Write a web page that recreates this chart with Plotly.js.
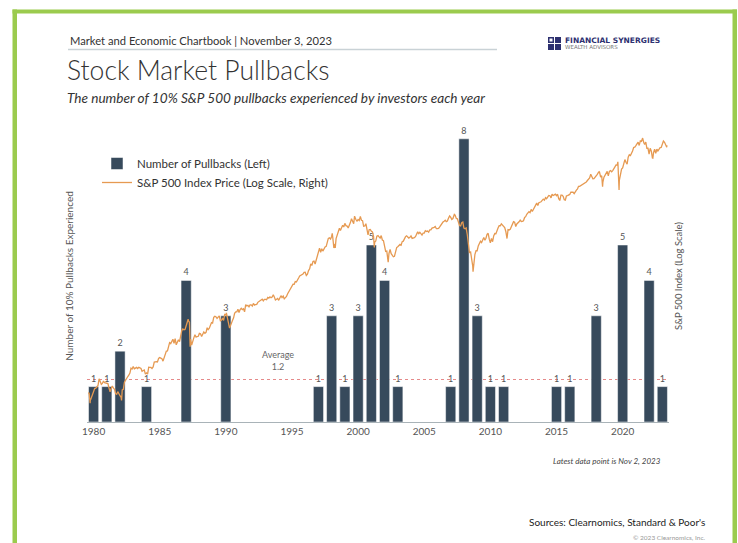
<!DOCTYPE html>
<html>
<head>
<meta charset="utf-8">
<script src="https://cdn.plot.ly/plotly-3.0.1.min.js"></script>
<style>
  html, body { margin: 0; padding: 0; background: #ffffff; }
  #chart { width: 738px; height: 543px; }
</style>
</head>
<body>
<div id="chart"></div>
<script>
// ---------------- DATA ----------------
// Years in which 10% pullbacks occurred, and how many
const pullbackYears  = [1980,1981,1982,1984,1987,1990,1997,1998,1999,2000,2001,2002,2003,2007,2008,2009,2010,2011,2015,2016,2018,2020,2022,2023];
const pullbackCounts = [1,   1,   2,   1,   4,   3,   1,   3,   1,   3,   5,   4,   1,   1,   8,   3,   1,   1,   1,   1,   3,   5,   4,   1];
const averagePullbacks = 1.2;

// x-axis tick labels
const tickYears = [1980,1985,1990,1995,2000,2005,2010,2015,2020];

// S&P 500 month-end closes, starting January 1980
const spStartYear = 1980;
const spMonthly = [
 114.16,113.66,102.09,106.29,111.24,114.24,121.67,122.38,125.46,127.47,140.52,135.76,
 129.55,131.27,136.00,132.81,132.59,131.21,130.92,122.79,116.18,121.89,126.35,122.55,
 120.40,113.11,111.96,116.44,111.88,109.61,107.09,119.51,120.42,133.71,138.54,140.64,
 145.30,148.06,152.96,164.42,162.39,168.11,162.56,164.40,166.07,163.55,166.40,164.93,
 163.41,157.06,159.18,160.05,150.55,153.18,150.66,166.68,166.10,166.09,163.58,167.24,
 179.63,181.18,180.66,179.83,189.55,191.85,190.92,188.63,182.08,189.82,202.17,211.28,
 211.78,226.92,238.90,235.52,247.35,250.84,236.12,252.93,231.32,243.98,249.22,242.17,
 274.08,284.20,291.70,288.36,290.10,304.00,318.66,329.80,321.83,251.79,230.30,247.08,
 257.07,267.82,258.89,261.33,262.16,273.50,272.02,261.52,271.91,278.97,273.70,277.72,
 297.47,288.86,294.87,309.64,320.52,317.98,346.08,351.45,349.15,340.36,345.99,353.40,
 329.08,331.89,339.94,330.80,361.23,358.02,356.15,322.56,306.05,304.00,322.22,330.22,
 343.93,367.07,375.22,375.34,389.83,371.16,387.81,395.43,387.86,392.46,375.22,417.09,
 408.79,412.70,403.69,414.95,415.35,408.14,424.21,414.03,417.80,418.68,431.35,435.71,
 438.78,443.38,451.67,440.19,450.19,450.53,448.13,463.56,458.93,467.83,461.79,466.45,
 481.61,467.14,445.77,450.91,456.50,444.27,458.26,475.49,462.69,472.35,453.69,459.27,
 470.42,487.39,500.71,514.71,533.40,544.75,562.06,561.88,584.41,581.50,605.37,615.93,
 636.02,640.43,645.50,654.17,669.12,670.63,639.95,651.99,687.31,705.27,757.02,740.74,
 786.16,790.82,757.12,801.34,848.28,885.14,954.29,899.47,947.28,914.62,955.40,970.43,
 980.28,1049.34,1101.75,1111.75,1090.82,1133.84,1120.67,957.28,1017.01,1098.67,1163.63,1229.23,
 1279.64,1238.33,1286.37,1335.18,1301.84,1372.71,1328.72,1320.41,1282.71,1362.93,1388.91,1469.25,
 1394.46,1366.42,1498.58,1452.43,1420.60,1454.60,1430.83,1517.68,1436.51,1429.40,1314.95,1320.28,
 1366.01,1239.94,1160.33,1249.46,1255.82,1224.42,1211.23,1133.58,1040.94,1059.78,1139.45,1148.08,
 1130.20,1106.73,1147.39,1076.92,1067.14,989.82,911.62,916.07,815.28,885.76,936.31,879.82,
 855.70,841.15,848.18,916.92,963.59,974.50,990.31,1008.01,995.97,1050.71,1058.20,1111.92,
 1131.13,1144.94,1126.21,1107.30,1120.68,1140.84,1101.72,1104.24,1114.58,1130.20,1173.82,1211.92,
 1181.27,1203.60,1180.59,1156.85,1191.50,1191.33,1234.18,1220.33,1228.81,1207.01,1249.48,1248.29,
 1280.08,1280.66,1294.83,1310.61,1270.09,1270.20,1276.66,1303.82,1335.85,1377.94,1400.63,1418.30,
 1438.24,1406.82,1420.86,1482.37,1530.62,1503.35,1455.27,1473.99,1526.75,1549.38,1481.14,1468.36,
 1378.55,1330.63,1322.70,1385.59,1400.38,1280.00,1267.38,1282.83,1166.36,968.75,896.24,903.25,
 825.88,735.09,797.87,872.81,919.14,919.32,987.48,1020.62,1057.08,1036.19,1095.63,1115.10,
 1073.87,1104.49,1169.43,1186.69,1089.41,1030.71,1101.60,1049.33,1141.20,1183.26,1180.55,1257.64,
 1286.12,1327.22,1325.83,1363.61,1345.20,1320.64,1292.28,1218.89,1131.42,1253.30,1246.96,1257.60,
 1312.41,1365.68,1408.47,1397.91,1310.33,1362.16,1379.32,1406.58,1440.67,1412.16,1416.18,1426.19,
 1498.11,1514.68,1569.19,1597.57,1630.74,1606.28,1685.73,1632.97,1681.55,1756.54,1805.81,1848.36,
 1782.59,1859.45,1872.34,1883.95,1923.57,1960.23,1930.67,2003.37,1972.29,2018.05,2067.56,2058.90,
 1994.99,2104.50,2067.89,2085.51,2107.39,2063.11,2103.84,1972.18,1920.03,2079.36,2080.41,2043.94,
 1940.24,1932.23,2059.74,2065.30,2096.95,2098.86,2173.60,2170.95,2168.27,2126.15,2198.81,2238.83,
 2278.87,2363.64,2362.72,2384.20,2411.80,2423.41,2470.30,2471.65,2519.36,2575.26,2647.58,2673.61,
 2823.81,2713.83,2640.87,2648.05,2705.27,2718.37,2816.29,2901.52,2913.98,2711.74,2760.17,2506.85,
 2704.10,2784.49,2834.40,2945.83,2752.06,2941.76,2980.38,2926.46,2976.74,3037.56,3140.98,3230.78,
 3225.52,2954.22,2584.59,2912.43,3044.31,3100.29,3271.12,3500.31,3363.00,3269.96,3621.63,3756.07,
 3714.24,3811.15,3972.89,4181.17,4204.11,4297.50,4395.26,4522.68,4307.54,4605.38,4567.00,4766.18,
 4515.55,4373.94,4530.41,4131.93,4132.15,3785.38,4130.29,3955.00,3585.62,3871.98,4080.11,3839.50,
 4076.60,3970.15,4109.31,4169.48,4179.83,4450.38,4588.96,4507.66,4288.05,4193.80
];

// Notable daily closes (peaks / troughs) and the latest data point
const spDailyDates  = ['1980-03-27','1982-08-12','1987-08-25','1987-10-19','1990-07-16','1990-10-11','1998-07-17','1998-10-08','2000-03-24','2001-09-21','2002-10-09','2007-10-09','2009-03-09','2011-10-03','2018-09-20','2018-12-24','2020-02-19','2020-03-23','2022-01-03','2022-10-12','2023-11-02'];
const spDailyValues = [98.22,       102.42,      336.77,      224.84,      368.95,      295.46,      1186.75,     959.44,      1527.46,     965.80,      776.76,      1565.15,     676.53,      1099.23,     2930.75,     2351.10,     3386.15,     2237.40,     4796.56,     3577.03,     4317.78];

// ---------------- BUILD SERIES ----------------
const spPoints = [];
spMonthly.forEach((v, i) => {
  const y = spStartYear + Math.floor(i / 12);
  const m = i % 12;
  const d = new Date(Date.UTC(y, m + 1, 0)).toISOString().slice(0, 10);
  spPoints.push([d, v]);
});
spDailyDates.forEach((d, i) => spPoints.push([d, spDailyValues[i]]));
spPoints.sort((a, b) => (a[0] < b[0] ? -1 : a[0] > b[0] ? 1 : 0));

const barX = pullbackYears.map(y => y + '-07-01');
const tickVals = tickYears.map(y => y + '-07-01');
const tickText = tickYears.map(String);

// ---------------- GEOMETRY HELPERS ----------------
const W = 738, H = 543;
const M = { l: 87, r: 69, t: 130, b: 121 };
const PW = W - M.l - M.r, PH = H - M.t - M.b;
const px = x => (x - M.l) / PW;             // pixel x -> paper x
const py = y => (H - M.b - y) / PH;         // pixel y -> paper y

const FONT = 'Lato, "Open Sans", sans-serif';
const GREEN = '#9bcb4e';
const NAVY = '#2d3070';

const rect = (x0, y0, x1, y1, color) => ({
  type: 'rect', xref: 'paper', yref: 'paper', layer: 'above',
  x0: px(x0), x1: px(x1), y0: py(y1), y1: py(y0),
  fillcolor: color, line: { width: 0 }
});

const traces = [
  {
    type: 'bar',
    name: 'Number of Pullbacks (Left)',
    x: barX,
    y: pullbackCounts,
    text: pullbackCounts.map(String),
    textposition: 'outside',
    constraintext: 'none',
    cliponaxis: false,
    textfont: { family: FONT, size: 9, color: '#555' },
    width: 0.77 * 365.25 * 86400000,
    marker: { color: '#374a5c', line: { color: '#ffffff', width: 0.5 } },
    hoverinfo: 'x+y'
  },
  {
    type: 'scatter',
    mode: 'lines',
    name: 'S&P 500 Index Price (Log Scale, Right)',
    x: spPoints.map(p => p[0]),
    y: spPoints.map(p => p[1]),
    yaxis: 'y2',
    line: { color: '#e69a52', width: 1.3 }
  }
];

const layout = {
  width: W, height: H,
  margin: M,
  paper_bgcolor: '#ffffff',
  plot_bgcolor: 'rgba(0,0,0,0)',
  font: { family: FONT, color: '#333' },
  showlegend: true,
  title: {
    text: 'Stock Market Pullbacks',
    xref: 'container', yref: 'container',
    x: 67 / W, y: 1 - 71 / H, xanchor: 'left', yanchor: 'middle',
    font: { family: FONT, size: 26.5, color: '#333', weight: 300 }
  },
  legend: {
    x: px(97), y: py(149), xanchor: 'left', yanchor: 'top',
    bgcolor: 'rgba(0,0,0,0)',
    font: { family: FONT, size: 11.5, color: '#333' },
    itemwidth: 30, tracegroupgap: 0
  },
  xaxis: {
    type: 'date',
    range: ['1980-01-01', '2024-01-01'],
    tickmode: 'array', tickvals: tickVals, ticktext: tickText,
    ticks: '', showgrid: false, zeroline: false,
    showline: true, linecolor: '#a9b3b8', linewidth: 1,
    tickfont: { family: FONT, size: 10, color: '#555' },
    fixedrange: true
  },
  yaxis: {
    range: [0, PH / 35.4],
    showticklabels: false, ticks: '', showgrid: false, zeroline: false, showline: false,
    title: { text: 'Number of 10% Pullbacks Experienced', font: { family: FONT, size: 10, color: '#555' }, standoff: 10 },
    fixedrange: true
  },
  yaxis2: {
    type: 'log', overlaying: 'y', side: 'right',
    range: [(716 - (H - M.b)) / 157, (716 - M.t) / 157],
    showticklabels: false, ticks: '', showgrid: false, zeroline: false, showline: false,
    title: { text: 'S&P 500 Index (Log Scale)', font: { family: FONT, size: 9.5, color: '#555' }, standoff: 6 },
    fixedrange: true
  },
  shapes: [
    // average line
    { type: 'line', xref: 'paper', yref: 'y', x0: 0, x1: 1, y0: averagePullbacks, y1: averagePullbacks,
      line: { color: '#e58a8a', width: 1.2, dash: 'dot' }, layer: 'below' },
    // header rule
    { type: 'line', xref: 'paper', yref: 'paper', x0: px(68), x1: px(497), y0: py(49.5), y1: py(49.5),
      line: { color: '#c9d2d6', width: 1.5 } },
    // green frame
    rect(12.5, 9.5, 17, 543, GREEN),
    rect(12.5, 9.5, 737, 13.5, GREEN),
    rect(732.5, 9.5, 737, 543, GREEN),
    // logo mark
    rect(548, 37, 554, 43, NAVY),
    rect(555, 37, 561, 43, NAVY),
    rect(548, 44, 554, 50, NAVY),
    rect(555, 44, 561, 50, NAVY),
    rect(549.5, 38.5, 552.5, 41.5, '#ffffff')
  ],
  annotations: [
    { text: 'Market and Economic Chartbook | November 3, 2023', xref: 'paper', yref: 'paper',
      x: px(68), y: py(40), xanchor: 'left', yanchor: 'middle', showarrow: false,
      font: { family: FONT, size: 11.2, color: '#333' } },
    { text: '<i>The number of 10% S&P 500 pullbacks experienced by investors each year</i>', xref: 'paper', yref: 'paper',
      x: px(65), y: py(98), xanchor: 'left', yanchor: 'middle', showarrow: false,
      font: { family: FONT, size: 13.6, color: '#333' } },
    { text: '<b>FINANCIAL SYNERGIES</b>', xref: 'paper', yref: 'paper',
      x: px(563), y: py(40.5), xanchor: 'left', yanchor: 'middle', showarrow: false,
      font: { family: 'DejaVu Sans', size: 7.5, color: NAVY } },
    { text: 'WEALTH ADVISORS', xref: 'paper', yref: 'paper',
      x: px(563), y: py(47), xanchor: 'left', yanchor: 'middle', showarrow: false,
      font: { family: 'DejaVu Sans', size: 5.5, color: '#777' } },
    { text: 'Average<br>1.2', xref: 'x', yref: 'y',
      x: '1994-06-05', y: averagePullbacks, xanchor: 'center', yanchor: 'bottom', yshift: 6, showarrow: false,
      font: { family: FONT, size: 9, color: '#666' } },
    { text: '<i>Latest data point is Nov 2, 2023</i>', xref: 'paper', yref: 'paper',
      x: px(663), y: py(461), xanchor: 'right', yanchor: 'middle', showarrow: false,
      font: { family: FONT, size: 8, color: '#444' } },
    { text: "Sources: Clearnomics, Standard &amp; Poor's", xref: 'paper', yref: 'paper',
      x: px(707), y: py(522), xanchor: 'right', yanchor: 'middle', showarrow: false,
      font: { family: FONT, size: 10, color: '#222' } },
    { text: '© 2023 Clearnomics, Inc.', xref: 'paper', yref: 'paper',
      x: px(707), y: py(537), xanchor: 'right', yanchor: 'middle', showarrow: false,
      font: { family: FONT, size: 6.5, color: '#999' } }
  ]
};

Plotly.newPlot('chart', traces, layout, { displayModeBar: false, staticPlot: true });
</script>
</body>
</html>
